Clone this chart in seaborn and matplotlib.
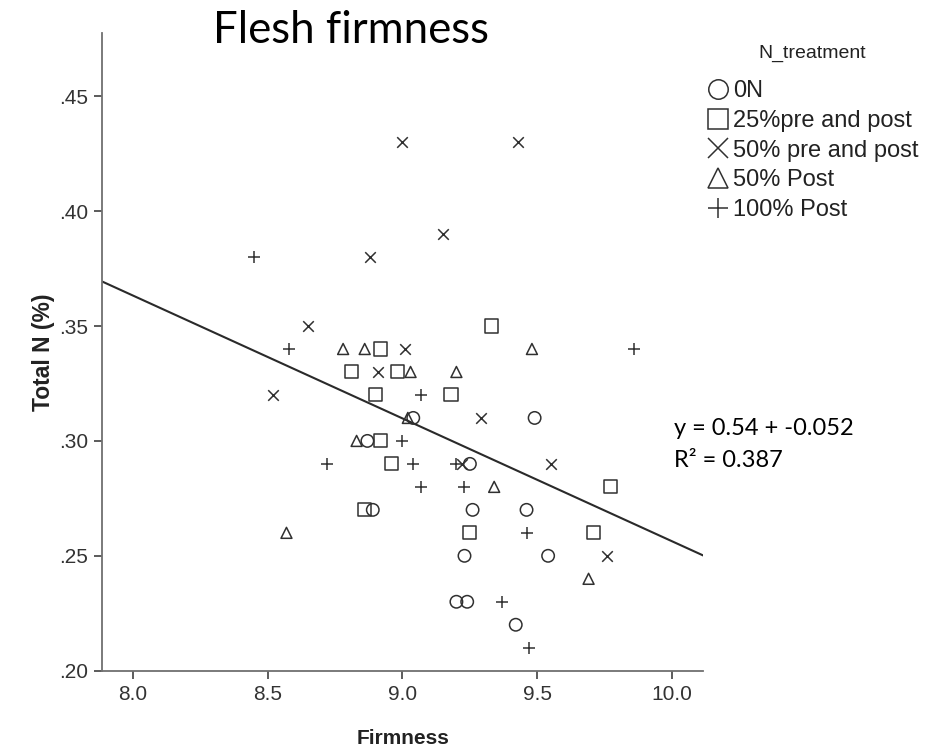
import numpy as np
import pandas as pd
import matplotlib
matplotlib.use("Agg")
import matplotlib.pyplot as plt
import seaborn as sns
from matplotlib.lines import Line2D

# ---------------- data ----------------
treatments = ["0N", "25%pre and post", "50% pre and post", "50% Post", "100% Post"]

firm_0N = [8.89, 8.87, 9.04, 9.49, 9.25, 9.26, 9.46, 9.23, 9.54, 9.20, 9.24, 9.42]
totN_0N = [0.27, 0.30, 0.31, 0.31, 0.29, 0.27, 0.27, 0.25, 0.25, 0.23, 0.23, 0.22]

firm_25pp = [8.92, 8.81, 8.98, 8.90, 8.92, 8.96, 9.33, 9.18, 8.86, 9.77, 9.25, 9.71]
totN_25pp = [0.34, 0.33, 0.33, 0.32, 0.30, 0.29, 0.35, 0.32, 0.27, 0.28, 0.26, 0.26]

firm_50pp = [9.00, 9.43, 8.88, 9.15, 8.65, 9.01, 8.91, 8.52, 9.29, 9.55, 9.76, 9.22]
totN_50pp = [0.43, 0.43, 0.38, 0.39, 0.35, 0.34, 0.33, 0.32, 0.31, 0.29, 0.25, 0.29]

firm_50p = [8.78, 8.86, 9.03, 9.20, 9.48, 8.83, 9.34, 9.69, 8.57, 9.02]
totN_50p = [0.34, 0.34, 0.33, 0.33, 0.34, 0.30, 0.28, 0.24, 0.26, 0.31]

firm_100p = [8.45, 8.58, 9.86, 9.07, 9.00, 8.72, 9.04, 9.20, 9.07, 9.23, 9.46, 9.37, 9.47]
totN_100p = [0.38, 0.34, 0.34, 0.32, 0.30, 0.29, 0.29, 0.29, 0.28, 0.28, 0.26, 0.23, 0.21]

fit_intercept = 0.7913
fit_slope = -0.0535

x_ticks = [8.0, 8.5, 9.0, 9.5, 10.0]
x_tick_labels = ["8.0", "8.5", "9.0", "9.5", "10.0"]
y_ticks = [0.20, 0.25, 0.30, 0.35, 0.40, 0.45]
y_tick_labels = [".20", ".25", ".30", ".35", ".40", ".45"]

title_text = "Flesh firmness"
x_label = "Firmness"
y_label = "Total N (%)"
legend_title = "N_treatment"
eq_text = "y = 0.54 + -0.052"
r2_text = "R\u00b2 = 0.387"

# ---------------- style ----------------
sns.set_style("white")
plt.rcParams["font.family"] = ["Liberation Sans", "DejaVu Sans"]

ink = "#303030"
markers = ["o", "s", "x", "^", "+"]
sizes = [80, 88, 58, 62, 66]
groups = [(firm_0N, totN_0N), (firm_25pp, totN_25pp), (firm_50pp, totN_50pp),
          (firm_50p, totN_50p), (firm_100p, totN_100p)]

fig = plt.figure(figsize=(9.38, 7.5), dpi=100)
ax = fig.add_axes([0.1087, 0.1057, 0.6410, 0.8503])

for name, (xs, ys), m, s in zip(treatments, groups, markers, sizes):
    df = pd.DataFrame({"Firmness": xs, "TotalN": ys})
    if m in ("x", "+"):
        sns.scatterplot(data=df, x="Firmness", y="TotalN", marker=m, s=s,
                        color=ink, linewidth=1.1, legend=False, ax=ax, zorder=3)
    else:
        sns.scatterplot(data=df, x="Firmness", y="TotalN", marker=m, s=s,
                        color=ink, facecolor="none", edgecolor=ink,
                        linewidth=1.1, legend=False, ax=ax, zorder=3)

ax.axline((0, fit_intercept), slope=fit_slope, color="#2a2a2a", linewidth=1.5, zorder=2)

ax.set_xlim(7.886, 10.115)
ax.set_ylim(0.20, 0.4775)
ax.set_xticks(x_ticks)
ax.set_xticklabels(x_tick_labels)
ax.set_yticks(y_ticks)
ax.set_yticklabels(y_tick_labels)

for side in ["top", "right"]:
    ax.spines[side].set_visible(False)
for side in ["left", "bottom"]:
    ax.spines[side].set_color("#707070")
    ax.spines[side].set_linewidth(1.3)

ax.tick_params(axis="both", direction="out", length=6, width=1.2, color="#404040",
               labelsize=15, labelcolor="#333333", pad=4,
               left=True, bottom=True)

ax.set_xlabel(x_label, fontsize=15, fontweight="bold", color="#222222", labelpad=18)
ax.set_ylabel(y_label, fontsize=16.5, fontweight="bold", color="#222222", labelpad=3)

fig.text(0.3737, 1 - 43 / 750, title_text, ha="center", va="baseline",
         fontsize=31.5, family=["Lato", "DejaVu Sans"], color="black")
fig.text(674 / 938, 1 - 435 / 750, eq_text, ha="left", va="baseline",
         fontsize=17, family=["Lato", "DejaVu Sans"], color="black")
fig.text(674 / 938, 1 - 467 / 750, r2_text, ha="left", va="baseline",
         fontsize=17, family=["Lato", "DejaVu Sans"], color="black")

handles = []
for m in markers:
    if m in ("x", "+"):
        h = Line2D([], [], linestyle="none", marker=m, color=ink,
                   markersize=14, markeredgewidth=1.1)
    else:
        h = Line2D([], [], linestyle="none", marker=m, markerfacecolor="none",
                   markeredgecolor=ink, markersize=14, markeredgewidth=1.1)
    handles.append(h)

fig.text(812 / 938, 1 - 53 / 750, legend_title, ha="center", va="center",
         fontsize=14, color="#222222")
leg = fig.legend(handles, treatments, loc="upper left",
                 bbox_to_anchor=(707 / 938, 1 - 80 / 750), frameon=False,
                 fontsize=17, handlelength=0.9,
                 handletextpad=0.22, labelspacing=0.33, borderaxespad=0,
                 borderpad=0)
for t in leg.get_texts():
    t.set_color("#222222")

fig.savefig("out.png", dpi=100)
